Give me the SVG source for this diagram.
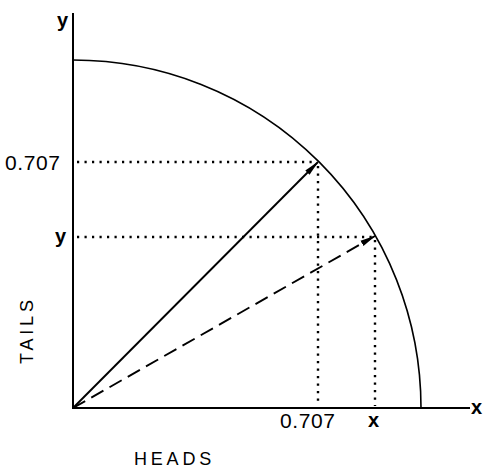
<svg xmlns="http://www.w3.org/2000/svg" width="483" height="468" viewBox="0 0 483 468">
<defs>
<style>
.ax{stroke:#000;stroke-width:2;fill:none}
.arc{stroke:#000;stroke-width:1.6;fill:none}
.dot{stroke:#000;stroke-width:2.4;fill:none;stroke-dasharray:2.2 5.3}
.vec{stroke:#000;stroke-width:1.9;fill:none}
.dash{stroke-dasharray:14 7}
text{font-family:"Liberation Sans",Arial,sans-serif;fill:#000}
.lab{font-size:21px;letter-spacing:0.6px}
.var{font-size:20px;font-weight:bold}
.cap{font-size:18px;letter-spacing:3.8px}
</style>
<marker id="ah" viewBox="0 0 16 8" refX="15" refY="4" markerWidth="16" markerHeight="8" markerUnits="userSpaceOnUse" orient="auto">
<path d="M0,1 L16,4 L0,7 Z" fill="#000"/>
</marker>
</defs>
<g id="axes">
<line class="ax" x1="73" y1="13" x2="73" y2="409"/>
<line class="ax" x1="72" y1="408" x2="470" y2="408"/>
</g>
<g id="circle">
<path class="arc" d="M73,60 A348,348 0 0 1 421,408"/>
</g>
<g id="connectors">
<line class="dot" x1="77" y1="162" x2="316" y2="162"/>
<line class="dot" x1="318" y1="166" x2="318" y2="406"/>
<line class="dot" x1="77" y1="237" x2="372" y2="237"/>
<line class="dot" x1="375" y1="240" x2="375" y2="406"/>
<line class="vec" x1="73" y1="408" x2="318" y2="162" marker-end="url(#ah)"/>
<line class="vec dash" x1="73" y1="408" x2="375" y2="236" marker-end="url(#ah)"/>
</g>
<g id="labels">
<text class="var" x="57" y="27">y</text>
<text class="lab" x="5" y="170">0.707</text>
<text class="var" x="55" y="243">y</text>
<text class="lab" x="280" y="428">0.707</text>
<text class="var" x="368" y="427">x</text>
<text class="var" x="471" y="414">x</text>
<text class="cap" transform="translate(33,364) rotate(-90)">TAILS</text>
<text class="cap" x="134" y="465">HEADS</text>
</g>
</svg>
